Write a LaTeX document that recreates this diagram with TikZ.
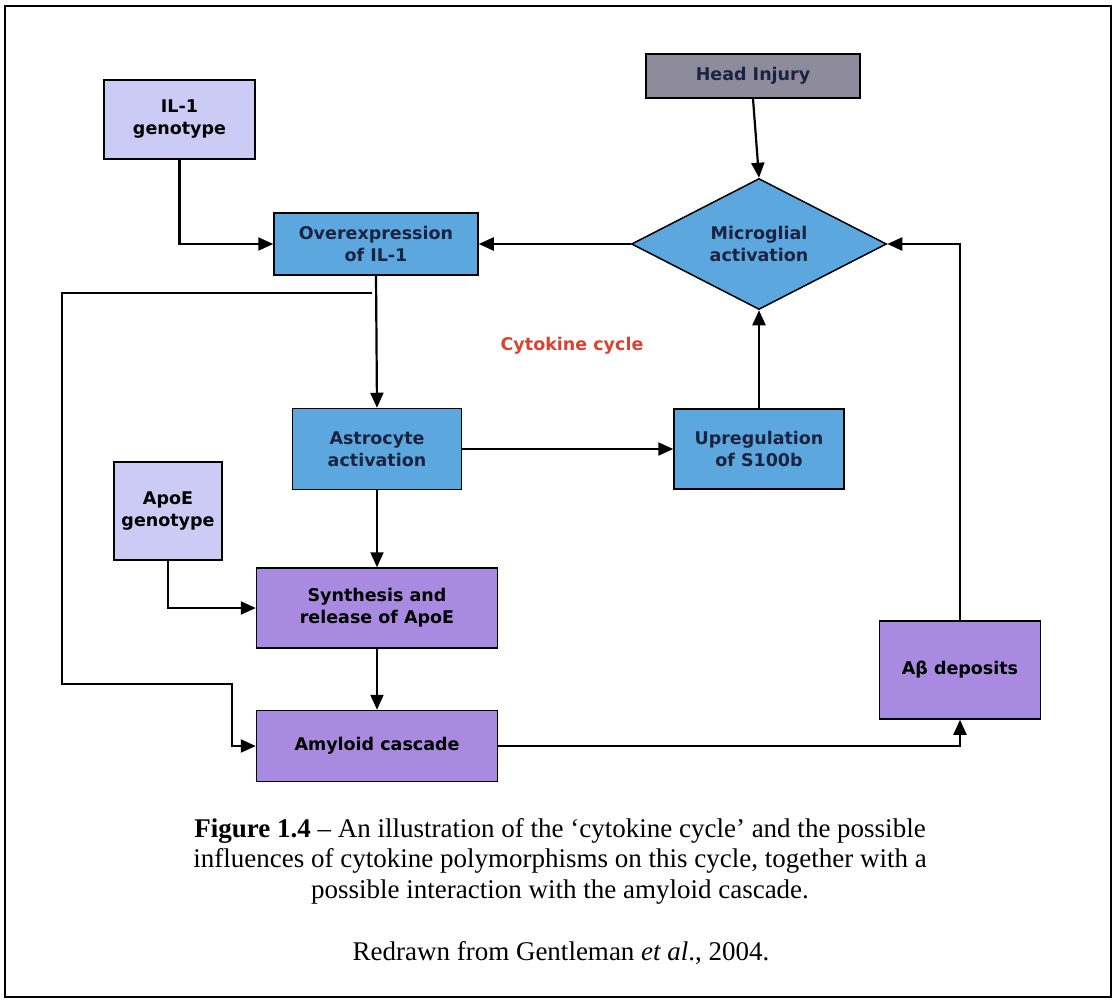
\documentclass[tikz,border=0pt]{standalone}
\usepackage{fontspec}
\setmainfont{Liberation Serif}
\setsansfont{DejaVu Sans}
\usepackage{xcolor}
\usepackage{tikz}
\usetikzlibrary{shapes.geometric,arrows.meta}

\definecolor{genofill}{HTML}{CBCBF5}
\definecolor{cyclefill}{HTML}{5BA7DE}
\definecolor{cascadefill}{HTML}{A88BE0}
\definecolor{injuryfill}{HTML}{8E8C9C}
\definecolor{cycletext}{HTML}{1C2340}
\definecolor{cyclelabel}{HTML}{D9432E}

\begin{document}
\begin{tikzpicture}[
    x=1pt, y=-1pt,
    genotype/.style={
        rectangle,
        draw=black,
        fill=genofill,
        line width=1.5pt,
        align=center,
        inner sep=0pt,
        font=\sffamily\bfseries\fontsize{17.5}{22}\selectfont
    },
    cyclebox/.style={
        rectangle,
        draw=black,
        fill=cyclefill,
        line width=1.5pt,
        align=center,
        inner sep=0pt,
        text=cycletext,
        font=\sffamily\bfseries\fontsize{17.5}{22}\selectfont
    },
    cascadebox/.style={
        rectangle,
        draw=black,
        fill=cascadefill,
        line width=1.5pt,
        align=center,
        inner sep=0pt,
        font=\sffamily\bfseries\fontsize{17.5}{22}\selectfont
    },
    injury/.style={
        rectangle,
        draw=black,
        fill=injuryfill,
        line width=1.5pt,
        align=center,
        inner sep=0pt,
        text=cycletext,
        font=\sffamily\bfseries\fontsize{17.5}{22}\selectfont
    },
    decision/.style={
        diamond,
        draw=black,
        fill=cyclefill,
        line width=1.5pt,
        align=center,
        inner sep=0pt,
        aspect=1.95,
        text=cycletext,
        font=\sffamily\bfseries\fontsize{17.5}{22}\selectfont
    },
    arrow/.style={
        -{Triangle[length=15pt,width=13pt]},
        line width=2.2pt
    }
]
\useasboundingbox (0,0) rectangle (1114,999);
\draw[line width=2pt] (5,6) rectangle (1111,997);

% Components
\node[genotype, minimum width=151, minimum height=79] (ilgeno) at (179.5,119.5) {IL-1\\genotype};
\node[cyclebox, minimum width=204, minimum height=62] (overexpr) at (376,244) {Overexpression\\of IL-1};
\node[injury, minimum width=214, minimum height=44] (headinjury) at (753,76) {Head Injury};
\node[decision, minimum width=255, minimum height=131] (microglia) at (759,244) {Microglial\\activation};
\node[cyclebox, minimum width=169, minimum height=81] (astro) at (377,449) {Astrocyte\\activation};
\node[cyclebox, minimum width=170, minimum height=80] (s100b) at (759,449) {Upregulation\\of S100b};
\node[genotype, minimum width=108, minimum height=98] (apoegeno) at (168,511) {ApoE\\genotype};
\node[cascadebox, minimum width=241, minimum height=80] (synth) at (377,608) {Synthesis and\\release of ApoE};
\node[cascadebox, minimum width=241, minimum height=71] (amyloid) at (377,746) {Amyloid cascade};
\node[cascadebox, minimum width=161, minimum height=98] (abeta) at (960,670) {Aβ deposits};
\node[text=cyclelabel, font=\sffamily\bfseries\fontsize{17.5}{22}\selectfont] (cyclelbl) at (572,346) {Cytokine cycle};

% Arrows
\draw[arrow] (ilgeno.south) |- (overexpr.west);
\draw[arrow] (headinjury.south) -- (microglia.north);
\draw[arrow] (microglia.west) -- (overexpr.east);
\draw[arrow] (overexpr.south) -- (astro.north);
\draw[arrow] (astro.east) -- (s100b.west);
\draw[arrow] (s100b.north) -- (microglia.south);
\draw[arrow] (astro.south) -- (synth.north);
\draw[arrow] (apoegeno.south) |- (synth.west);
\draw[arrow] (synth.south) -- (amyloid.north);
\draw[arrow] (amyloid.east) -| (abeta.south);
\draw[arrow] (abeta.north) |- (microglia.east);

% Side route into the amyloid cascade
\coordinate (branch) at (372,293);
\coordinate (bendtop) at (62,293);
\coordinate (bendlow) at (232,684);
\draw[arrow] (branch) -- (bendtop) |- (bendlow) |- (amyloid.west);

% Caption
\node[align=center, font=\fontsize{27}{30.5}\selectfont] (caption) at (560,861) {%
    \textbf{Figure 1.4} -- An illustration of the ‘cytokine cycle’ and the possible\\
    influences of cytokine polymorphisms on this cycle, together with a\\
    possible interaction with the amyloid cascade.};
\node[font=\fontsize{27}{30.5}\selectfont] (source) at (561,953) {Redrawn from Gentleman \textit{et al}., 2004.};

\end{tikzpicture}
\end{document}
